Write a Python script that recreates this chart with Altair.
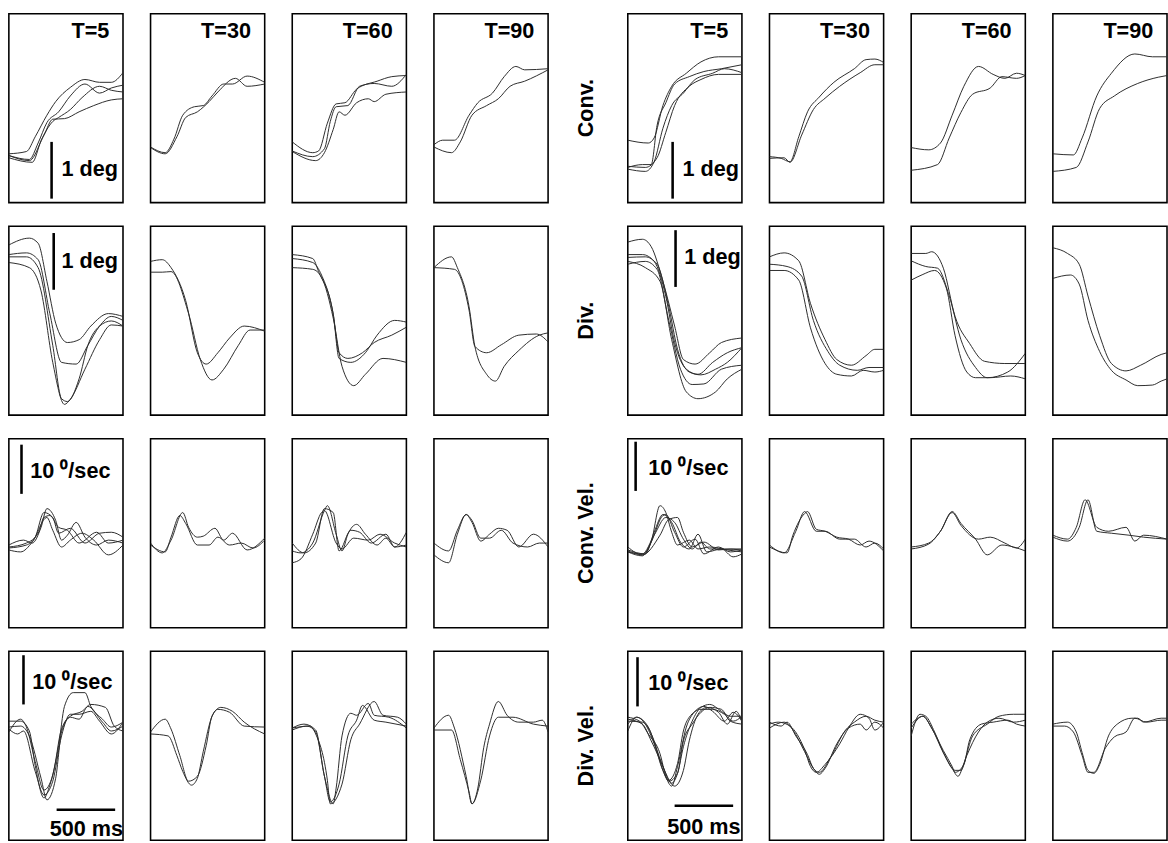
import altair as alt
import pandas as pd

# ---------------------------------------------------------------------------
# Averaged eye-movement traces: conjugate position (deg) and velocity (deg/s)
# Each trace is a list of (time in ms, value) key points.
# Columns: T=5, T=30, T=60, T=90 ; left block and right block.
# ---------------------------------------------------------------------------

T_LABELS = ["T=5", "T=30", "T=60", "T=90"]
ROW_LABELS = ["Conv.", "Div.", "Conv. Vel.", "Div. Vel."]

# ---- convergence position (deg) ----
conv_l_t5 = [
    [(0, 0.86), (150, 0.90), (225, 1.16), (325, 1.54), (400, 1.78), (525, 2.03), (650, 2.17), (775, 2.12), (875, 2.12), (975, 2.29)],
    [(0, 0.83), (175, 0.76), (250, 1.05), (325, 1.41), (425, 1.60), (525, 1.88), (650, 2.09), (775, 1.93), (875, 2.02), (975, 2.07)],
    [(0, 0.79), (200, 0.71), (275, 1.09), (375, 1.43), (425, 1.50), (525, 1.64), (625, 1.85), (775, 2.05), (875, 1.98), (975, 1.95)],
    [(0, 0.83), (175, 0.74), (300, 1.19), (375, 1.47), (475, 1.48), (600, 1.60), (725, 1.71), (875, 1.81), (975, 1.83)],
]
conv_l_t30 = [
    [(0, 0.98), (125, 0.88), (200, 1.12), (275, 1.54), (375, 1.69), (450, 1.71), (525, 1.88), (625, 2.09), (700, 2.09), (825, 2.23), (975, 2.12)],
    [(0, 0.97), (125, 0.86), (225, 1.16), (300, 1.50), (400, 1.60), (500, 1.78), (575, 1.95), (725, 2.19), (825, 2.05), (975, 2.09)],
]
conv_l_t60 = [
    [(0, 1.07), (175, 0.88), (225, 0.91), (300, 1.40), (375, 1.74), (450, 1.76), (550, 2.00), (725, 2.14), (850, 2.22), (975, 2.24)],
    [(0, 0.91), (175, 0.81), (275, 0.95), (325, 1.43), (375, 1.69), (475, 1.71), (575, 2.05), (700, 2.10), (850, 2.05), (975, 2.26)],
    [(0, 0.90), (200, 0.74), (275, 0.88), (350, 1.29), (400, 1.60), (450, 1.54), (550, 1.76), (650, 1.83), (700, 1.78), (800, 1.91), (975, 1.95)],
]
conv_l_t90 = [
    [(0, 1.02), (75, 1.10), (175, 1.10), (300, 1.54), (375, 1.76), (500, 1.93), (600, 2.22), (700, 2.40), (775, 2.34), (975, 2.36)],
    [(0, 0.98), (150, 0.88), (225, 1.07), (325, 1.54), (450, 1.71), (550, 1.83), (650, 2.05), (775, 2.14), (975, 2.34)],
]
conv_r_t5 = [
    [(0, 1.10), (175, 1.05), (225, 1.14), (300, 1.71), (375, 2.05), (500, 2.28), (625, 2.48), (775, 2.57), (975, 2.57)],
    [(0, 0.62), (125, 0.67), (200, 0.67), (250, 1.36), (325, 1.76), (400, 2.09), (525, 2.22), (650, 2.31), (800, 2.36), (975, 2.43)],
    [(0, 0.59), (150, 0.55), (225, 0.72), (300, 1.31), (375, 1.71), (475, 1.93), (575, 2.17), (725, 2.28), (825, 2.36), (975, 2.29)],
    [(0, 0.64), (150, 0.62), (250, 0.79), (325, 1.24), (400, 1.71), (525, 2.05), (625, 2.17), (775, 2.26), (975, 2.26)],
]
conv_r_t30 = [
    [(0, 0.81), (100, 0.78), (175, 0.72), (250, 1.16), (325, 1.60), (425, 1.86), (550, 2.12), (725, 2.36), (825, 2.52), (900, 2.53), (975, 2.47)],
    [(0, 0.78), (125, 0.79), (175, 0.71), (275, 1.19), (375, 1.64), (475, 1.84), (600, 2.05), (775, 2.29), (900, 2.43), (975, 2.43)],
]
conv_r_t60 = [
    [(0, 0.97), (150, 0.93), (250, 1.05), (350, 1.54), (450, 2.05), (575, 2.40), (700, 2.26), (800, 2.19), (900, 2.28), (975, 2.24)],
    [(0, 0.57), (225, 0.67), (325, 1.14), (425, 1.59), (525, 1.91), (675, 2.02), (775, 2.22), (900, 2.19), (975, 2.24)],
]
conv_r_t90 = [
    [(0, 0.86), (175, 0.84), (250, 1.14), (375, 1.88), (500, 2.28), (700, 2.62), (850, 2.57), (975, 2.57)],
    [(0, 0.55), (200, 0.62), (300, 1.07), (400, 1.66), (525, 1.88), (725, 2.10), (900, 2.21), (975, 2.24)],
]

# ---- divergence position (deg) ----
div_l_t5 = [
    [(0, 3.00), (175, 3.12), (250, 3.03), (325, 2.36), (400, 1.62), (500, 1.28), (600, 1.33), (700, 1.57), (850, 1.79), (975, 1.74)],
    [(0, 2.83), (150, 2.86), (250, 2.74), (350, 1.79), (450, 0.93), (575, 0.90), (675, 1.23), (775, 1.57), (875, 1.74), (975, 1.67)],
    [(0, 2.79), (150, 2.79), (250, 2.60), (375, 1.23), (450, 0.29), (500, 0.24), (600, 0.64), (675, 1.23), (775, 1.57), (875, 1.66), (975, 1.57)],
    [(0, 2.69), (175, 2.60), (275, 2.19), (375, 0.93), (475, 0.19), (525, 0.28), (650, 0.81), (775, 1.33), (875, 1.59), (975, 1.57)],
]
div_l_t30 = [
    [(0, 2.71), (100, 2.74), (175, 2.60), (300, 2.02), (400, 1.10), (475, 0.90), (575, 1.10), (675, 1.36), (800, 1.57), (975, 1.48)],
    [(0, 2.52), (100, 2.52), (175, 2.53), (325, 1.79), (425, 0.98), (525, 0.62), (625, 0.81), (750, 1.23), (850, 1.50), (975, 1.50)],
]
div_l_t60 = [
    [(0, 2.83), (175, 2.76), (225, 2.53), (350, 1.78), (400, 1.00), (500, 0.93), (625, 1.10), (725, 1.41), (875, 1.67), (975, 1.64)],
    [(0, 2.76), (175, 2.69), (250, 2.47), (350, 1.78), (400, 1.10), (475, 1.00), (600, 1.10), (700, 1.28), (850, 1.41), (975, 1.55)],
    [(0, 2.60), (175, 2.57), (250, 2.43), (350, 1.71), (425, 0.86), (525, 0.52), (625, 0.72), (775, 1.00), (975, 0.93)],
]
div_l_t90 = [
    [(0, 2.60), (150, 2.79), (200, 2.60), (300, 1.91), (350, 1.21), (450, 0.72), (525, 0.60), (600, 0.86), (725, 1.14), (900, 1.41), (975, 1.45)],
    [(0, 2.60), (175, 2.57), (300, 1.85), (350, 1.21), (450, 1.10), (575, 1.24), (725, 1.41), (875, 1.43), (975, 1.29)],
]
div_r_t5 = [
    [(0, 3.05), (125, 3.10), (200, 2.97), (300, 2.36), (400, 1.57), (475, 0.98), (575, 0.90), (700, 1.10), (800, 1.28), (975, 1.36)],
    [(0, 2.83), (125, 2.83), (225, 2.71), (325, 2.09), (400, 1.28), (500, 0.81), (600, 0.72), (725, 0.93), (850, 1.10), (975, 1.19)],
    [(0, 2.78), (150, 2.79), (250, 2.66), (350, 1.91), (425, 1.16), (525, 0.76), (625, 0.71), (750, 0.81), (850, 0.93), (975, 1.19)],
    [(0, 2.66), (150, 2.71), (250, 2.57), (350, 1.67), (450, 0.81), (550, 0.54), (650, 0.55), (800, 0.81), (975, 0.88)],
    [(0, 2.71), (150, 2.60), (275, 2.36), (375, 1.33), (500, 0.41), (600, 0.29), (750, 0.41), (850, 0.64), (975, 0.81)],
]
div_r_t30 = [
    [(0, 2.79), (125, 2.86), (250, 2.72), (350, 1.97), (475, 1.33), (575, 0.98), (700, 0.88), (825, 1.05), (900, 1.16), (975, 1.16)],
    [(0, 2.66), (150, 2.62), (275, 2.45), (375, 1.67), (500, 1.12), (600, 0.88), (750, 0.79), (850, 0.84), (975, 0.84)],
    [(0, 2.55), (125, 2.55), (250, 2.38), (350, 1.54), (475, 0.91), (575, 0.72), (700, 0.69), (800, 0.79), (900, 0.76), (975, 0.79)],
]
div_r_t60 = [
    [(0, 2.85), (125, 2.85), (175, 2.88), (275, 2.59), (375, 1.74), (500, 1.26), (625, 0.95), (800, 0.91), (975, 0.91)],
    [(0, 2.72), (125, 2.62), (225, 2.59), (325, 2.10), (425, 1.33), (550, 0.84), (650, 0.66), (825, 0.76), (975, 1.09)],
    [(0, 2.38), (100, 2.48), (200, 2.55), (300, 2.24), (375, 1.40), (475, 0.76), (550, 0.66), (675, 0.66), (850, 0.69), (975, 0.64)],
]
div_r_t90 = [
    [(0, 2.95), (125, 2.85), (225, 2.66), (300, 2.10), (400, 1.40), (500, 0.91), (625, 0.78), (750, 0.88), (925, 1.07), (975, 1.10)],
    [(0, 2.41), (150, 2.47), (225, 2.31), (300, 1.67), (400, 1.12), (500, 0.79), (625, 0.62), (725, 0.52), (850, 0.53), (925, 0.60), (975, 0.64)],
]

# ---- convergence velocity (deg/s) ----
cvel_l_t5 = [
    [(0, 0), (125, 1), (200, 0.4), (275, 3.6), (325, 7.4), (400, 5), (450, 1), (500, 2), (575, 4.6), (650, 1.6), (750, 0), (850, 1), (975, 0.4)],
    [(0, -0.6), (150, 0), (225, 1.6), (300, 6.6), (375, 5.6), (425, 2.4), (525, 3.4), (650, 0.4), (775, 2.4), (875, 2.6), (975, 1.6)],
    [(0, -1), (100, -1.4), (200, 0.6), (325, 5.6), (375, 3), (450, -0.4), (525, 1), (625, 2.4), (725, 1), (850, -2), (975, 0)],
    [(0, -0.4), (150, 0.4), (250, 2.4), (300, 5.6), (350, 6), (425, 3.6), (500, 3), (600, 0.4), (750, 2.6), (850, 0.4), (975, 1)],
]
cvel_l_t30 = [
    [(0, 0.4), (100, -1.6), (175, 1), (275, 6.6), (325, 3.6), (400, 1.6), (450, 1.8), (550, 3.4), (625, 1), (700, 2.4), (825, -1), (975, 1.4)],
    [(0, 0), (125, -1.4), (175, 1.6), (250, 6), (300, 4.4), (400, 0), (500, 0), (575, 1.6), (675, 0), (775, 0.4), (875, -0.6), (975, 1)],
]
cvel_l_t60 = [
    [(0, -1.2), (75, -1.6), (175, 0.4), (275, 7), (300, 8), (375, 2.2), (425, -1.2), (475, 2.2), (550, 4.2), (625, 2.2), (725, 0), (800, 1.4), (875, -0.4), (975, 0)],
    [(0, 0.4), (100, -1.6), (200, 0.4), (275, 7.4), (350, 6.6), (400, -1.2), (500, 3), (575, 2.6), (675, 0.4), (800, 2.2), (875, -0.4), (975, 2.6)],
    [(0, -3.6), (75, -2.8), (175, 2.2), (250, 6.6), (275, 7), (375, 0.4), (425, -0.8), (525, 1.4), (650, 1), (750, 2.2), (875, 0.4), (975, -0.4)],
]
cvel_l_t90 = [
    [(0, 0.4), (125, -1.2), (200, 3), (275, 6.2), (325, 4.6), (400, 0.8), (475, 2.2), (550, 3.4), (625, 3), (725, -0.4), (850, 2.2), (975, -0.4)],
    [(0, -2), (125, -3.6), (200, 2.2), (275, 6.2), (325, 5), (400, 1.4), (475, 1.4), (575, 3), (675, 0.4), (800, -0.4), (900, 0.4), (975, 0.4)],
]
cvel_r_t5 = [
    [(0, -0.4), (125, -2), (200, 0.6), (275, 8), (325, 6.6), (375, 2.6), (425, 0), (525, 1), (600, -0.8), (700, -0.4), (850, -1), (975, -1.4)],
    [(0, -1.4), (125, -2.2), (200, 0.6), (300, 6), (325, 6.2), (400, 2.6), (475, -0.4), (575, 1.2), (650, -1.8), (775, -0.4), (875, -1.4), (975, -1)],
    [(0, -1), (150, -1.8), (225, 2.6), (300, 6.2), (375, 4.6), (450, 0.6), (525, -0.8), (600, 2.2), (675, -1.4), (800, -0.8), (900, -2.4), (975, -1.8)],
    [(0, -1.4), (125, -1.8), (225, 2), (325, 5.6), (400, 4.6), (475, 1.2), (550, -0.8), (625, 0.6), (700, -0.8), (825, -0.8), (975, -1)],
    [(0, -1.2), (125, -2), (275, 2), (350, 5.2), (425, 5.6), (475, 2.6), (550, -0.4), (650, 0.6), (775, -1), (875, -0.8), (975, -0.8)],
]
cvel_r_t30 = [
    [(0, -0.4), (150, -1.6), (200, 2), (300, 6.4), (325, 6.8), (400, 3.2), (475, 2.8), (575, 1.6), (675, 1.2), (775, 0), (850, 0.8), (975, -1.2)],
    [(0, 0), (125, -1.6), (225, 2.8), (300, 6.8), (400, 2.8), (475, 2.8), (600, 1.2), (725, 1.2), (825, -0.4), (900, 0.4), (975, -0.8)],
]
cvel_r_t60 = [
    [(0, -0.4), (150, 0.4), (250, 2.8), (350, 6.8), (425, 4.4), (550, 1.2), (650, -2), (775, 0), (875, -0.4), (975, -1.2)],
    [(0, -0.8), (150, 0.2), (250, 2.8), (350, 6.6), (425, 4), (575, 1.2), (675, 1.6), (800, 0.4), (900, -0.6), (975, 1.2)],
]
cvel_r_t90 = [
    [(0, 2), (125, 1.2), (200, 3.6), (275, 9.2), (375, 3.6), (475, 2.8), (625, 3.6), (700, 0.8), (775, 2), (975, 1.2)],
    [(0, 1.6), (125, 0.8), (225, 3.6), (300, 9.2), (375, 2.8), (500, 2.4), (650, 2), (775, 1.6), (975, 1.2)],
]

# ---- divergence velocity (deg/s) ----
dvel_l_t5 = [
    [(0, 2), (100, 2), (175, 0), (225, -7), (300, -13.6), (350, -11), (425, -3), (475, 5), (550, 7.8), (650, 7.8), (700, 5), (800, 2.4), (875, 0.8), (975, 1.8)],
    [(0, 0.8), (100, 1), (175, -1), (275, -9.6), (325, -14), (400, -9.6), (450, -0.2), (525, 3), (625, 4), (700, 5.4), (825, 4.8), (900, 1), (975, 0)],
    [(0, -0.2), (100, 2.4), (150, 0.8), (225, -6.2), (300, -12), (375, -9), (450, 0.4), (525, 2.8), (600, 2.4), (675, 5), (800, 1.8), (875, 0), (975, 1)],
    [(0, 0.4), (75, -0.6), (125, 0), (225, -8.2), (300, -13), (375, -10.2), (450, -1), (525, 3.4), (600, 3.4), (700, 4), (775, 2), (875, -0.6), (975, 1.8)],
]
dvel_l_t30 = [
    [(0, -0.2), (125, 2.4), (175, 0.4), (250, -5), (325, -10.2), (400, -9.2), (475, -3), (525, 3), (600, 4.8), (700, 4), (800, 1.8), (975, -0.6)],
    [(0, -0.6), (150, -1), (225, -5), (275, -8.2), (350, -11), (400, -9.6), (450, -4.2), (525, 3), (575, 4.4), (675, 3.8), (800, 1), (975, 0.8)],
]
dvel_l_t60 = [
    [(0, 0.6), (100, 1.4), (200, 0.2), (275, -9.2), (350, -14.8), (375, -11.6), (425, -1), (500, 3.6), (550, 3.2), (650, 5.6), (700, 3.2), (825, 2.8), (975, 0.6)],
    [(0, 0.2), (125, 1), (200, -0.2), (275, -9.2), (325, -14.4), (400, -10.8), (475, -1), (550, 2.2), (600, 5.2), (700, 2.2), (800, 1.8), (975, 1)],
    [(0, 0.6), (150, 1), (200, -0.6), (300, -10), (325, -14.8), (425, -10.8), (500, -1.8), (575, 1.4), (700, 6), (775, 3.2), (900, 2.8), (975, 1.4)],
]
dvel_l_t90 = [
    [(0, 0.6), (125, 3.2), (175, 0.6), (275, -9.2), (325, -14.8), (375, -11.6), (425, -3.4), (475, 1.4), (550, 6), (625, 3.2), (725, 1.8), (850, 1.8), (925, 2.2), (975, -0.2)],
    [(0, 0.2), (150, 0.2), (225, -5.8), (300, -12.4), (325, -14.8), (400, -10), (475, -1), (550, 2.8), (675, 2.8), (850, 1.4), (975, 1)],
]
dvel_r_t5 = [
    [(0, 2.8), (100, 2), (175, -0.6), (275, -4.6), (325, -9.2), (375, -11.2), (425, -7.2), (500, 0.8), (575, 4), (650, 5), (725, 4), (825, 2), (900, 3.8), (975, 2)],
    [(0, 1.4), (75, 2.8), (175, 0.8), (250, -4), (325, -8.6), (375, -10.6), (425, -8.6), (475, -3.2), (550, 2), (625, 4.8), (700, 5.4), (800, 4), (875, 3), (975, 3)],
    [(0, 2.4), (125, 1.4), (200, -2), (300, -7.2), (350, -10), (400, -11.2), (475, -8), (525, -2), (600, 3.4), (675, 4.8), (775, 3.8), (850, 1.4), (925, 4), (975, 1.8)],
    [(0, 0), (75, 2.8), (150, 1.4), (225, -2.6), (300, -8), (350, -10), (425, -6.6), (475, 0), (525, 2.8), (625, 4.4), (725, 4.4), (825, 3.4), (900, 2), (975, 3)],
    [(0, 2), (125, 1.8), (225, -2), (300, -8), (350, -10.2), (425, -8.6), (475, -2), (550, 1.4), (625, 3.8), (700, 4.8), (800, 4.4), (875, 2), (975, 1.4)],
]
dvel_r_t30 = [
    [(0, 1.8), (100, 1), (150, 1.8), (225, -1), (325, -4.8), (375, -7.6), (425, -8.4), (525, -5.2), (650, 0.2), (725, 1.8), (825, 3), (900, 2.2), (975, 1.8)],
    [(0, 0.6), (125, 1.8), (200, 0.2), (300, -4.2), (375, -7.6), (425, -8.8), (475, -7.6), (575, -2.6), (675, 0.6), (775, 1.4), (825, 0.2), (900, 1.8), (975, 0.6)],
    [(0, 1.4), (75, 1.8), (175, 1), (300, -3.8), (350, -7.2), (400, -8.4), (475, -6.8), (600, -2.6), (675, 0.6), (775, 3.4), (850, 2.6), (900, 0.2), (975, 1.8)],
]
dvel_r_t60 = [
    [(0, -1), (75, 3.4), (125, 3), (200, -0.2), (275, -4.4), (350, -7.6), (400, -9.2), (450, -6.6), (525, -1), (650, 1.4), (750, 3), (875, 3.4), (975, 3.4)],
    [(0, 0.6), (100, 3), (175, 0.6), (275, -4.4), (375, -8), (425, -8), (475, -5), (575, -0.2), (650, 1.8), (750, 2.6), (875, 1.8), (975, 2.2)],
    [(0, 1.4), (100, 3), (175, 0.6), (275, -4), (350, -7.2), (375, -8.4), (450, -6.8), (500, -1.8), (600, 1.4), (700, 1.8), (825, 2.2), (900, 1.4), (975, 1)],
]
dvel_r_t90 = [
    [(0, 1.4), (125, 1.8), (200, -0.2), (250, -4.4), (300, -8), (350, -8.6), (400, -6.8), (475, -1), (550, 1.4), (675, 2.6), (725, 2.6), (775, 1.8), (925, 2.6), (975, 2.6)],
    [(0, 1), (100, 1), (175, -0.2), (250, -5), (300, -8.4), (350, -8.4), (450, -3.4), (525, -1.2), (625, -0.2), (700, 2.6), (800, 1.8), (925, 2.2), (975, 2.2)],
]

# Calibration bars: (row, side, time, low, high, label time, label value, label)
vertical_bars = [
    (0, "L", 365, 0.07, 1.07, 450, 0.59, "1 deg"),
    (0, "R", 383, 0.07, 1.07, 467, 0.59, "1 deg"),
    (1, "L", 383, 2.21, 3.21, 450, 2.71, "1 deg"),
    (1, "R", 408, 2.26, 3.26, 483, 2.78, "1 deg"),
    (2, "L", 108, 10.4, 20.4, 183, 15.0, "10 \u2070/sec"),
    (2, "R", 67, 11.0, 21.0, 175, 15.6, "10 \u2070/sec"),
    (3, "L", 125, 5.4, 15.4, 200, 10.0, "10 \u2070/sec"),
    (3, "R", 83, 5.0, 15.0, 175, 9.8, "10 \u2070/sec"),
]
# (row, side, start ms, end ms, value, label time, label value, label)
time_bars = [
    (3, "L", 408, 908, -16.0, 662, -20.0, "500 ms"),
    (3, "R", 400, 900, -15.2, 650, -19.6, "500 ms"),
]

panels = {
    (0, "L"): [conv_l_t5, conv_l_t30, conv_l_t60, conv_l_t90],
    (0, "R"): [conv_r_t5, conv_r_t30, conv_r_t60, conv_r_t90],
    (1, "L"): [div_l_t5, div_l_t30, div_l_t60, div_l_t90],
    (1, "R"): [div_r_t5, div_r_t30, div_r_t60, div_r_t90],
    (2, "L"): [cvel_l_t5, cvel_l_t30, cvel_l_t60, cvel_l_t90],
    (2, "R"): [cvel_r_t5, cvel_r_t30, cvel_r_t60, cvel_r_t90],
    (3, "L"): [dvel_l_t5, dvel_l_t30, dvel_l_t60, dvel_l_t90],
    (3, "R"): [dvel_r_t5, dvel_r_t30, dvel_r_t60, dvel_r_t90],
}

Y_DOMAINS = [[0, 3.33], [0, 3.33], [-16.8, 21.6], [-22.2, 16.2]]
X_DOMAIN = [0, 975]
PANEL_W, PANEL_H = 116, 192
FONT = "Liberation Sans"
TEXT_STYLE = dict(font=FONT, fontSize=22, fontWeight="bold", color="black")


def trace_frame(traces):
    recs = []
    for k, tr in enumerate(traces):
        for t, v in tr:
            recs.append({"t": t, "v": v, "trace": k})
    return pd.DataFrame(recs)


def make_panel(row, side, col):
    xs = alt.Scale(domain=X_DOMAIN, nice=False, zero=False)
    ys = alt.Scale(domain=Y_DOMAINS[row], nice=False, zero=False)
    layers = [
        alt.Chart(trace_frame(panels[(row, side)][col]))
        .mark_line(interpolate="monotone", stroke="#2b2b2b", strokeWidth=1, clip=True)
        .encode(
            x=alt.X("t:Q", scale=xs, axis=None),
            y=alt.Y("v:Q", scale=ys, axis=None),
            detail="trace:N",
        )
    ]
    if row == 0:
        layers.append(
            alt.Chart(pd.DataFrame([{"t": 858, "v": 2.91, "label": T_LABELS[col]}]))
            .mark_text(align="right", baseline="alphabetic", **TEXT_STYLE)
            .encode(x=alt.X("t:Q", scale=xs, axis=None), y=alt.Y("v:Q", scale=ys, axis=None), text="label:N")
        )
    if col == 0:
        for (r, s, t, lo, hi, lt, lv, lab) in vertical_bars:
            if r == row and s == side:
                bar = pd.DataFrame([{"t0": t, "t1": t, "v0": lo, "v1": hi}])
                layers.append(
                    alt.Chart(bar).mark_rule(color="black", strokeWidth=2.6)
                    .encode(x=alt.X("t0:Q", scale=xs, axis=None), x2="t1:Q",
                            y=alt.Y("v0:Q", scale=ys, axis=None), y2="v1:Q")
                )
                layers.append(
                    alt.Chart(pd.DataFrame([{"t": lt, "v": lv, "label": lab}]))
                    .mark_text(align="left", baseline="middle", **TEXT_STYLE)
                    .encode(x=alt.X("t:Q", scale=xs, axis=None), y=alt.Y("v:Q", scale=ys, axis=None), text="label:N")
                )
        for (r, s, t0, t1, v, lt, lv, lab) in time_bars:
            if r == row and s == side:
                bar = pd.DataFrame([{"t0": t0, "t1": t1, "v0": v, "v1": v}])
                layers.append(
                    alt.Chart(bar).mark_rule(color="black", strokeWidth=2.6)
                    .encode(x=alt.X("t0:Q", scale=xs, axis=None), x2="t1:Q",
                            y=alt.Y("v0:Q", scale=ys, axis=None), y2="v1:Q")
                )
                layers.append(
                    alt.Chart(pd.DataFrame([{"t": lt, "v": lv, "label": lab}]))
                    .mark_text(align="center", baseline="middle", **TEXT_STYLE)
                    .encode(x=alt.X("t:Q", scale=xs, axis=None), y=alt.Y("v:Q", scale=ys, axis=None), text="label:N")
                )
    return alt.layer(*layers).properties(width=PANEL_W, height=PANEL_H)


def make_row_label(row):
    return (
        alt.Chart(pd.DataFrame({"label": [ROW_LABELS[row]]}))
        .mark_text(angle=270, align="center", baseline="middle", **TEXT_STYLE)
        .encode(text="label:N", x=alt.value(8), y=alt.value(PANEL_H / 2))
        .properties(width=22, height=PANEL_H, view=alt.ViewBackground(stroke="transparent"))
    )


rows = []
for r in range(4):
    left = [make_panel(r, "L", c) for c in range(4)]
    right = [make_panel(r, "R", c) for c in range(4)]
    rows.append(alt.hconcat(*left, make_row_label(r), *right, spacing=26))

chart = (
    alt.vconcat(*rows, spacing=22)
    .properties(padding={"left": 8, "top": 6, "right": 0, "bottom": 0}, background="white")
    .configure_view(stroke="black", strokeWidth=1.6)
)

chart.save("out.html", embed_options={"renderer": "svg", "actions": False})
